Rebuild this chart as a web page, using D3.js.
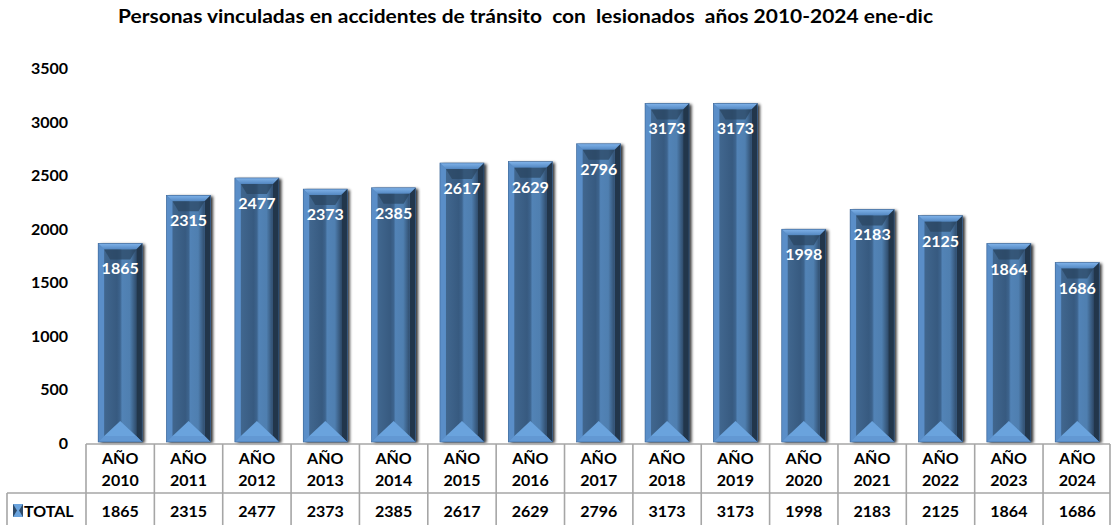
<!DOCTYPE html>
<html><head><meta charset="utf-8">
<script src="https://cdn.jsdelivr.net/npm/d3@7"></script>
<style>
body{margin:0;background:#fff}
svg{display:block}
text{font-family:Lato,'Open Sans',sans-serif;font-weight:700}
</style>
</head><body>
<svg id="c" width="1111" height="525"></svg>
<script>
const years = ['2010','2011','2012','2013','2014','2015','2016','2017','2018','2019','2020','2021','2022','2023','2024'];
const categoryPrefix = 'AÑO';
const values = [1865, 2315, 2477, 2373, 2385, 2617, 2629, 2796, 3173, 3173, 1998, 2183, 2125, 1864, 1686];
const yTicks = [0, 500, 1000, 1500, 2000, 2500, 3000, 3500];
const seriesName = 'TOTAL';
const titleText = 'Personas vinculadas en accidentes de tránsito  con  lesionados  años 2010-2024 ene-dic';

const svg = d3.select('#c');
const data = years.map((y, i) => ({year: y, value: values[i]}));

const x = d3.scaleBand().domain(years).range([86, 1111.4]).paddingInner(0.356).paddingOuter(0.178);
const y = d3.scaleLinear().domain([0, 3500]).range([443, 68.5]);

const defs = svg.append('defs');
const face = defs.append('linearGradient').attr('id','face').attr('x1','0').attr('x2','1').attr('y1','0').attr('y2','0');
[[0,'#41678f'],[0.4,'#375a80'],[0.5,'#3d648e'],[0.56,'#5283b6'],[0.8,'#4f7fb0'],[1,'#304d6d']]
  .forEach(([o,c]) => face.append('stop').attr('offset', o).attr('stop-color', c));
const topG = defs.append('linearGradient').attr('id','topb').attr('x1','0').attr('x2','0').attr('y1','0').attr('y2','1');
[[0,'#80b3ea'],[1,'#5387c1']].forEach(([o,c]) => topG.append('stop').attr('offset', o).attr('stop-color', c));
const shf = defs.append('filter').attr('id','sh').attr('x','-50%').attr('y','-10%').attr('width','200%').attr('height','120%');
shf.append('feGaussianBlur').attr('stdDeviation', 1.6);

// Title
svg.append('text').attr('x', 525.5).attr('y', 23).attr('text-anchor','middle')
  .style('white-space','pre').style('font-size','18px').attr('fill','#000')
  .attr('textLength', 815).attr('lengthAdjust','spacingAndGlyphs').text(titleText);

// Y axis
const yAxis = svg.append('g').attr('transform','translate(68,0)')
  .call(d3.axisLeft(y).tickValues(yTicks).tickFormat(d3.format('d')).tickSize(0).tickPadding(0));
yAxis.select('.domain').remove();
yAxis.selectAll('text').style('font-size','16px').style('font-family','Lato, sans-serif').style('font-weight','700').attr('fill','#000');

// Bars
const b = 6;
const bars = svg.append('g').selectAll('g').data(data).join('g');
bars.each(function(d) {
  const g = d3.select(this);
  const x0 = x(d.year), w = x.bandwidth(), yt = y(d.value), yb = y(0) - 1, x1 = x0 + w;
  const pts = a => a.map(p => p.join(',')).join(' ');
  g.append('rect').attr('x', x0 + 2.5).attr('y', yt + 1).attr('width', w).attr('height', yb - yt)
    .attr('fill', '#000').attr('opacity', 0.8).attr('filter','url(#sh)');
  g.append('rect').attr('x', x0).attr('y', yt).attr('width', w).attr('height', yb - yt).attr('fill', '#5387c1');
  g.append('polygon').attr('points', pts([[x0,yt],[x1,yt],[x1-b,yt+b],[x0+b,yt+b]])).attr('fill','url(#topb)');
  g.append('polygon').attr('points', pts([[x0,yt],[x0+b,yt+b],[x0+b,yb-b],[x0,yb]])).attr('fill','#5a8ec8');
  g.append('polygon').attr('points', pts([[x1,yt],[x1,yb],[x1-b,yb-b],[x1-b,yt+b]])).attr('fill','#22364b');
  g.append('polygon').attr('points', pts([[x0,yb],[x1,yb],[x1-b,yb-b],[x0+b,yb-b]])).attr('fill','#6298d3');
  g.append('rect').attr('x', x0 + b).attr('y', yt + b).attr('width', w - 2*b).attr('height', yb - yt - 2*b).attr('fill','url(#face)');
  g.append('polygon').attr('points', pts([[x0+b,yt+b],[x1-b,yt+b],[x1-b-6,yt+b+10],[x0+b+6,yt+b+10]])).attr('fill','#2a4460').attr('opacity',0.7);
  g.append('polygon').attr('points', pts([[x0+b,yb-b],[x1-b,yb-b],[x0+w/2,yb-b-15]])).attr('fill','#6aa3dd');
  g.append('rect').attr('x', x0).attr('y', yt).attr('width', w).attr('height', yb - yt).attr('fill','none').attr('stroke','#3a6496').attr('stroke-width',0.6);
});

// Data labels
svg.append('g').selectAll('text').data(data).join('text')
  .attr('x', d => x(d.year) + x.bandwidth()/2).attr('y', d => y(d.value) + 31)
  .attr('text-anchor','middle').attr('fill','#fff').style('font-size','16px').text(d => d.value);

// Data table
const step = x.step();
const colL = d => x(d) - (step - x.bandwidth())/2;
const tblTop = 444, rowMid = 493, tblBot = 530, right = 1110;
const grid = svg.append('g').attr('stroke','#a6a6a6').attr('stroke-width',1.6);
grid.append('line').attr('x1', 86).attr('x2', right).attr('y1', tblTop).attr('y2', tblTop);
grid.append('line').attr('x1', 7).attr('x2', right).attr('y1', rowMid).attr('y2', rowMid);
grid.append('line').attr('x1', 7).attr('x2', 7).attr('y1', rowMid).attr('y2', tblBot);
grid.selectAll('line.v').data(years).join('line').attr('class','v')
  .attr('x1', d => colL(d)).attr('x2', d => colL(d)).attr('y1', tblTop).attr('y2', tblBot);
grid.append('line').attr('x1', right).attr('x2', right).attr('y1', tblTop).attr('y2', tblBot);

const cx = d => x(d) + x.bandwidth()/2;
svg.append('g').selectAll('text').data(years).join('text')
  .attr('x', cx).attr('y', 464).attr('text-anchor','middle').style('font-size','16px').text(categoryPrefix);
svg.append('g').selectAll('text').data(years).join('text')
  .attr('x', cx).attr('y', 486).attr('text-anchor','middle').style('font-size','16px').text(d => d);
svg.append('g').selectAll('text').data(data).join('text')
  .attr('x', d => cx(d.year)).attr('y', 517).attr('text-anchor','middle').style('font-size','16px').text(d => d.value);

// Legend key + series name
const key = svg.append('g');
key.append('rect').attr('x', 13).attr('y', 504).attr('width', 10).attr('height', 13).attr('fill','#6aa3dd');
key.append('polygon').attr('points','13,504 17,510.5 13,517').attr('fill','#2d4a6a');
key.append('polygon').attr('points','23,504 19,510.5 23,517').attr('fill','#2d4a6a');
svg.append('text').attr('x', 24).attr('y', 517).style('font-size','16px').text(seriesName);
</script>
</body></html>
